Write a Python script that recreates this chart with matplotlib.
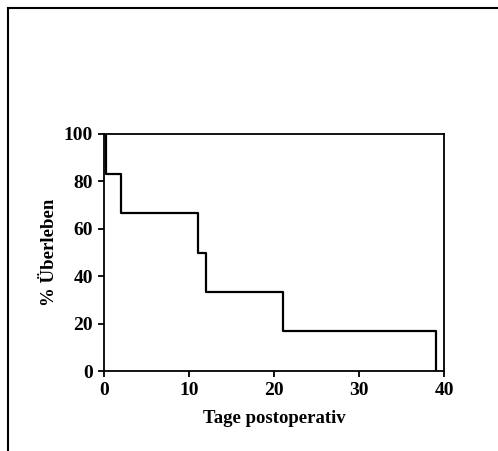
import matplotlib
matplotlib.use("Agg")
import matplotlib.pyplot as plt
from matplotlib.lines import Line2D

# Data
event_days = [0, 0.2, 2, 11, 12, 21, 39]
survival_pct = [100, 83.3, 66.7, 50, 33.3, 16.7, 0]
x_ticks = [0, 10, 20, 30, 40]
y_ticks = [0, 20, 40, 60, 80, 100]

plt.rcParams['font.family'] = ['Liberation Serif', 'DejaVu Serif']
plt.rcParams['font.weight'] = 'bold'

W, H = 498, 451
fig = plt.figure(figsize=(W / 100, H / 100), dpi=100)
ax = fig.add_axes([104 / W, 1 - 371 / H, (444 - 104) / W, (371 - 134) / H])

ax.step(event_days, survival_pct, where='post', color='black', lw=1.6)

ax.set_xlim(0, 40)
ax.set_ylim(0, 100)
ax.set_xticks(x_ticks)
ax.set_yticks(y_ticks)
ax.tick_params(direction='out', length=4, width=1.3, labelsize=14, pad=4)
for lab in ax.get_xticklabels() + ax.get_yticklabels():
    lab.set_fontweight('bold')
for sp in ax.spines.values():
    sp.set_linewidth(1.3)

ax.set_xlabel('Tage postoperativ', fontsize=13.5, fontweight='bold', labelpad=8)
ax.set_ylabel('% Überleben', fontsize=13.5, fontweight='bold', labelpad=4)

# outer frame (top and left edges)
fig.add_artist(Line2D([8 / W, 497 / W], [1 - 8 / H, 1 - 8 / H], color='black', lw=1.5, transform=fig.transFigure))
fig.add_artist(Line2D([8 / W, 8 / W], [1 - 8 / H, 0], color='black', lw=1.5, transform=fig.transFigure))

fig.savefig('out.png', dpi=100)
